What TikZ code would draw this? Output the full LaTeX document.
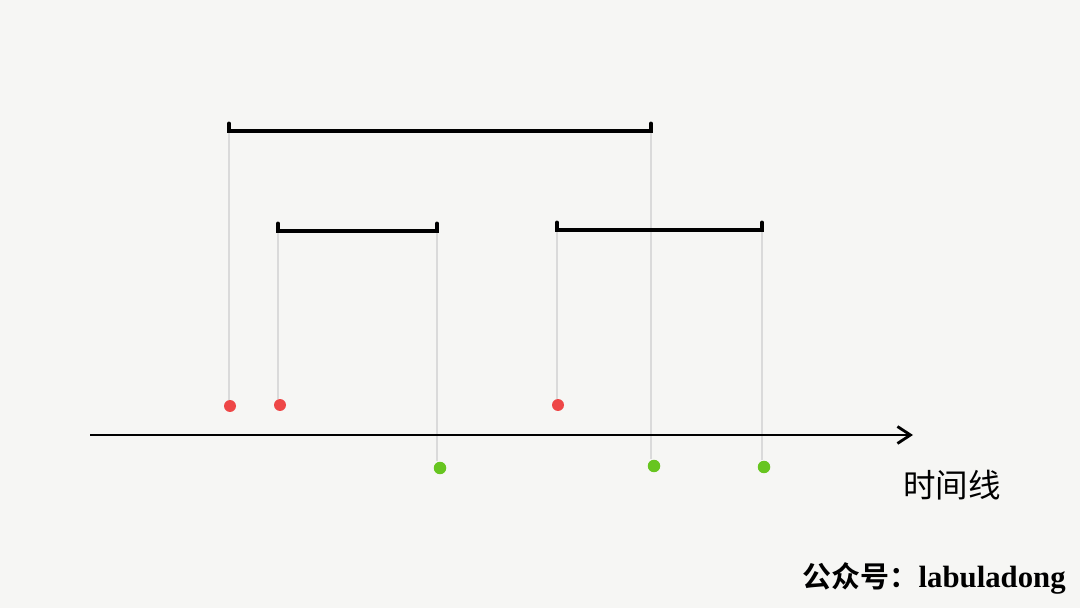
\documentclass[tikz,border=0pt]{standalone}
\usepackage{fontspec}
\setmainfont{Liberation Serif}
\newfontfamily\cjk{Noto Sans CJK SC}
\newfontfamily\cjkbold{Noto Sans CJK SC Bold}
\usetikzlibrary{arrows.meta}
\definecolor{paper}{HTML}{F6F6F4}
\definecolor{guide}{HTML}{DADADA}
\definecolor{startred}{HTML}{EE4747}
\definecolor{endgreen}{HTML}{67C520}
\tikzset{
  bar/.style={line width=2.8pt, line cap=round},
  guideline/.style={guide, line width=1.2pt},
  startdot/.style={circle, fill=startred, inner sep=0pt, minimum size=0.24cm},
  enddot/.style={circle, fill=endgreen, inner sep=0pt, minimum size=0.25cm},
}
\begin{document}
\begin{tikzpicture}[x=0.02cm,y=-0.02cm]
  \fill[paper] (0,0) rectangle (1080,608);
  \useasboundingbox (0,0) rectangle (1080,608);

  % Intervalle
  \coordinate (a1) at (229,131); \coordinate (b1) at (651,131);
  \coordinate (a2) at (278,231); \coordinate (b2) at (437,231);
  \coordinate (a3) at (557,230); \coordinate (b3) at (762,230);

  % Start- und Endpunkte
  \node[startdot] (s1) at (230,406) {};
  \node[startdot] (s2) at (280,405) {};
  \node[startdot] (s3) at (558,405) {};
  \node[enddot] (e1) at (440,468) {};
  \node[enddot] (e2) at (654,466) {};
  \node[enddot] (e3) at (764,467) {};

  % Hilfslinien
  \draw[guideline] (a1) -- (a1 |- s1.north);
  \draw[guideline] (a2) -- (a2 |- s2.north);
  \draw[guideline] (a3) -- (a3 |- s3.north);
  \draw[guideline] (b1) -- (b1 |- e2.north);
  \draw[guideline] (b2) -- (b2 |- e1.north);
  \draw[guideline] (b3) -- (b3 |- e3.north);

  % Balken
  \draw[bar] ([yshift=4pt]a1) -- (a1) -- (b1) -- ([yshift=4pt]b1);
  \draw[bar] ([yshift=4pt]a2) -- (a2) -- (b2) -- ([yshift=4pt]b2);
  \draw[bar] ([yshift=4pt]a3) -- (a3) -- (b3) -- ([yshift=4pt]b3);

  % Zeitachse
  \coordinate (t0) at (90,435);
  \coordinate (t1) at (913,435);
  \draw[line width=1.5pt, -{Straight Barb[length=0.26cm,width=0.34cm,line width=1.6pt]}] (t0) -- (t1);

  % Beschriftung
  \node[font=\cjk\fontsize{18.5}{19}\selectfont, anchor=west] (timeline) at (897,485) {时间线};
  \node[anchor=east, inner sep=0pt] (account) at (1066,578)
    {{\cjkbold\fontsize{16.5}{17}\selectfont 公众号：}{\bfseries\fontsize{17.5}{18}\selectfont labuladong}};
\end{tikzpicture}
\end{document}
